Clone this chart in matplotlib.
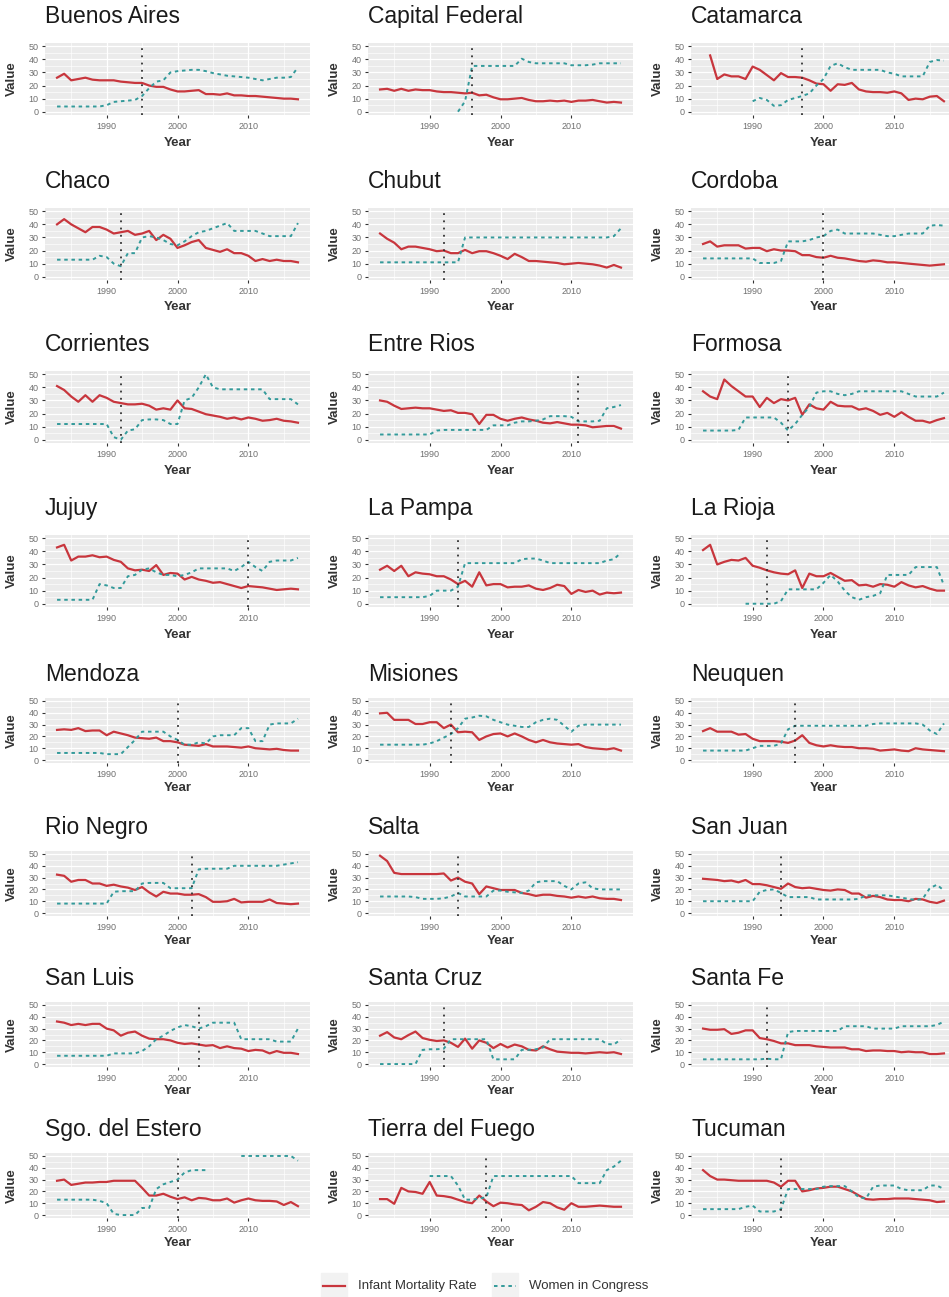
import numpy as np
import matplotlib
matplotlib.use('Agg')
import matplotlib.pyplot as plt
from matplotlib.patches import Rectangle

plt.rcParams['font.family'] = ['Liberation Sans', 'DejaVu Sans']

nan = np.nan
years = np.arange(1983, 2018)

provinces = ['Buenos Aires', 'Capital Federal', 'Catamarca',
             'Chaco', 'Chubut', 'Cordoba',
             'Corrientes', 'Entre Rios', 'Formosa',
             'Jujuy', 'La Pampa', 'La Rioja',
             'Mendoza', 'Misiones', 'Neuquen',
             'Rio Negro', 'Salta', 'San Juan',
             'San Luis', 'Santa Cruz', 'Santa Fe',
             'Sgo. del Estero', 'Tierra del Fuego', 'Tucuman']

# year the quota law came into force in each province
quota_year = [1995, 1996, 1997,
              1992, 1992, 2000,
              1992, 2011, 1995,
              2010, 1994, 1992,
              2000, 1993, 1996,
              2002, 1994, 1994,
              2003, 1992, 1992,
              2000, 1998, 1994]

# infant mortality rate (imr) and % women in congress (wic), 1983-2017
imr_buenos_aires = [26, 29, 24, 25, 26, 24.5, 24,
                    24, 24, 23, 22.5, 22, 22, 20, 19, 19, 17,
                    15.5, 15.5, 16, 16.5, 13.5, 13.5, 13, 14, 12.5, 12.5,
                    12, 12, 11.5, 11, 10.5, 10, 10, 9.5]
wic_buenos_aires = [4, 4, 4, 4, 4, 4, 4,
                    5, 7.5, 8, 8.5, 9, 12, 18, 23, 24, 30,
                    31, 31.5, 32, 32, 31, 29.5, 28.5, 27.5, 27, 26.5,
                    26, 25, 24, 25, 26, 26, 26.5, 34]

imr_capital = [17, 17.5, 16, 17.5, 16, 17, 16.5,
               16.5, 15.5, 15, 15, 14.5, 14, 14.5, 12.5, 13, 11,
               9.5, 9.5, 10, 10.5, 9, 8, 8, 8.5, 8, 8.5,
               7.5, 8.5, 8.5, 9, 8, 7, 7.5, 7]
wic_capital = [nan, nan, nan, nan, nan, nan, nan,
               nan, nan, nan, nan, 0, 8, 35, 35, 35, 35,
               35, 35, 35, 40.5, 38, 37, 37, 37, 37, 37,
               35.5, 35.5, 35.5, 36, 37, 37, 37, 37]

imr_catamarca = [nan, 43, 25, 28.5, 27, 27, 25,
                 34.5, 32, 28, 24, 29.5, 26.5, 26.5, 26, 24, 21.5,
                 21, 16, 21, 20.5, 22, 17, 15.5, 15, 15, 14.5,
                 15.5, 14, 9, 10, 9.5, 11.5, 12, 8]
wic_catamarca = [nan, nan, nan, nan, nan, nan, nan,
                 8, 10.5, 9, 4.5, 5, 9, 10.5, 12, 14, 20,
                 25, 35, 37, 34, 32, 32, 32, 32, 32, 30,
                 29, 27, 27, 27, 27, 38, 39.5, 39]

imr_chaco = [40, 44, 40, 37, 34, 38, 38,
             36, 33, 34, 35, 32, 33, 35, 28, 32, 29,
             22, 24, 26.5, 28, 22, 20.5, 19, 21, 18, 18,
             16, 12, 13.5, 12, 13, 12, 12, 11]
wic_chaco = [13, 13, 13, 13, 13, 13, 16,
             15, 10, 8, 18, 18, 30, 31, 30, 28, 25,
             24, 27, 31, 34, 35, 37, 39, 41, 35, 35,
             35, 35, 33, 31, 31, 31, 31, 41]

imr_chubut = [33, 29, 26, 21, 23, 23, 22,
              21, 19.5, 20, 18, 18, 20.5, 18, 19.5, 19.5, 18,
              16, 13.5, 17.5, 15, 12, 12, 11.5, 11, 10.5, 9.5,
              10, 10.5, 10, 9.5, 8.5, 7, 9, 7]
wic_chubut = [11, 11, 11, 11, 11, 11, 11,
              11, 11, 11, 11, 11, 30, 30, 30, 30, 30,
              30, 30, 30, 30, 30, 30, 30, 30, 30, 30,
              30, 30, 30, 30, 30, 30, 31, 37]

imr_cordoba = [25, 27, 23, 24, 24, 24, 21.5,
               22, 22, 19.5, 21, 20, 20, 19.5, 16.5, 16.5, 15,
               14.5, 16, 14.5, 14, 13, 12, 11.5, 12.5, 12, 11,
               11, 10.5, 10, 9.5, 9, 8.5, 9, 9.5]
wic_cordoba = [14, 14, 14, 14, 14, 14, 14,
               14, 10.5, 10.5, 10.5, 12, 27, 27, 27, 28, 30,
               31, 35, 36, 33, 33, 33, 33, 33, 32, 31,
               31, 32, 33, 33, 33, 39, 39.5, 39]

imr_corrientes = [41, 38, 33, 29, 34, 29, 34,
                  32, 29, 28, 27, 27, 27.5, 26, 23, 24, 23,
                  30, 24, 23.5, 21.5, 19.5, 18.5, 17.5, 16, 17, 15.5,
                  17, 16, 14.5, 15, 16, 14.5, 14, 13]
wic_corrientes = [12, 12, 12, 12, 12, 12, 12,
                  12, 2, 0, 7, 8, 15, 15.5, 15.5, 15, 12,
                  12, 30, 32, 40, 50, 40, 38.5, 38.5, 38.5, 38.5,
                  38.5, 38.5, 38.5, 31, 31, 31, 31, 27]

imr_entre_rios = [30, 29, 26, 23.5, 24, 24.5, 24,
                  24, 23, 22, 22.5, 20.5, 20.5, 19.5, 12, 19, 19,
                  16, 14.5, 16, 17, 15.5, 14.5, 13, 12.5, 13.5, 12.5,
                  11.5, 11.5, 11, 9.5, 10, 10.5, 10.5, 8.5]
wic_entre_rios = [4, 4, 4, 4, 4, 4, 4,
                  4, 7, 7.5, 7.5, 7.5, 7.5, 7.5, 7.5, 7.5, 11,
                  11, 11, 13, 14, 14, 14.5, 15.5, 18, 18, 18,
                  17.5, 14, 14, 14, 14.5, 24, 25, 26.5]

imr_formosa = [37, 33, 31, 46, 41, 37, 33,
               33, 25, 32, 28, 31, 30, 32, 19, 27, 24,
               23, 29, 26, 25.5, 25.5, 23, 24, 22, 19, 20.5,
               17.5, 21, 17.5, 14.5, 14.5, 13, 15, 16.5]
wic_formosa = [7, 7, 7, 7, 7, 7.5, 17,
               17, 17, 17, 17, 13, 7, 12, 19, 25, 36,
               37, 37, 35, 34, 35, 37, 37, 37, 37, 37,
               37, 37, 35, 33, 33, 33, 33, 36]

imr_jujuy = [43, 45, 33, 36, 36, 37, 35.5,
             36, 33.5, 32, 27, 25.5, 26, 25, 29.5, 22, 23.5,
             23, 18.5, 20.5, 18.5, 17.5, 16, 16.5, 15, 13.5, 12,
             13.5, 13, 12.5, 11.5, 10.5, 11, 11.5, 11]
wic_jujuy = [3, 3, 3, 3, 3, 3, 15,
             14, 12, 12, 21, 22, 26, 27, 24, 22, 22,
             21, 22, 24, 27, 27, 27, 27, 27, 25, 28,
             32, 28, 25, 32, 33, 33, 33, 35]

imr_la_pampa = [26, 29, 25, 29, 21, 24, 23,
                22.5, 21, 21, 18.5, 15, 17.5, 13, 24, 14, 15,
                15, 12.5, 13, 13, 14, 11.5, 10.5, 12, 14.5, 13.5,
                7.5, 10.5, 9, 10, 7, 8.5, 8, 8.5]
wic_la_pampa = [5, 5, 5, 5, 5, 5, 5,
                6, 10, 10, 10, 13, 31, 31, 31, 31, 31,
                31, 31, 31, 34, 34.5, 34.5, 33, 31, 31, 31,
                31, 31, 31, 31, 31, 33, 34, 39]

imr_la_rioja = [41, 45, 30, 32, 33.5, 33, 35,
                29, 27.5, 25.5, 24, 23, 22.5, 25.5, 12, 23, 21,
                21, 23.5, 20.5, 17.5, 18, 14, 14.5, 13, 15, 14.5,
                13, 16.5, 14, 12.5, 13.5, 11.5, 10, 10]
wic_la_rioja = [nan, nan, nan, nan, nan, nan, 0,
                0, 0, 0, 0, 2, 11, 11, 11, 11, 11,
                16, 22, 17, 10, 5, 3, 5, 6, 8, 22,
                22, 22, 22, 28, 28, 28, 28, 14]

imr_mendoza = [25.5, 26, 25.5, 27, 24.5, 25, 25,
               21, 24, 22.5, 21, 19, 18.5, 18, 19, 16, 16,
               15, 13, 12.5, 12, 13.5, 11.5, 11.5, 11.5, 11, 10.5,
               11.5, 10, 9.5, 9, 9.5, 8.5, 8, 8]
wic_mendoza = [6, 6, 6, 6, 6, 6, 6,
               5, 5, 5, 11, 17, 24, 24, 24, 24, 20,
               17, 13, 13, 15, 14, 20, 21, 21, 21, 27,
               27, 16, 16, 30, 31, 31, 31, 35]

imr_misiones = [39.5, 40, 34, 34, 34, 30.5, 30.5,
                32, 32, 27, 30, 23.5, 24, 23.5, 17, 20, 22,
                22.5, 20, 22.5, 20, 17, 15, 17, 15, 14, 13.5,
                13, 13.5, 11, 10, 9.5, 9, 10, 8]
wic_misiones = [13, 13, 13, 13, 13, 13, 13,
                14, 16, 19, 22, 27, 35, 36, 37.5, 37, 34,
                32, 30, 29, 28, 28, 32, 34, 35, 34, 29,
                24, 29, 30, 30, 30, 30, 30, 30]

imr_neuquen = [24.5, 27, 24, 24, 24, 21.5, 22,
               18, 16, 16, 16, 15.5, 14.5, 16.5, 21, 14.5, 12.5,
               11.5, 12.5, 11.5, 11, 11, 10, 10, 9.5, 8, 8.5,
               9, 8, 7.5, 10, 9, 8.5, 8, 7.5]
wic_neuquen = [8, 8, 8, 8, 8, 8, 8,
               10, 12, 12, 12, 14, 26, 29, 29, 29, 29,
               29, 29, 29, 29, 29, 29, 29, 30.5, 31, 31,
               31, 31, 31, 31, 30, 25, 22, 31]

imr_rio_negro = [32.5, 31.5, 26.5, 28, 28, 25, 25,
                 23, 24, 22.5, 21.5, 19.5, 22, 17.5, 14, 18, 16.5,
                 16.5, 15.5, 15.5, 16, 13.5, 9.5, 9.5, 10, 12, 9,
                 9.5, 9.5, 9.5, 11.5, 8.5, 8, 7.5, 8]
wic_rio_negro = [8, 8, 8, 8, 8, 8, 8,
                 8, 18, 18.5, 18.5, 18.5, 25, 25.5, 25.5, 25.5, 21,
                 21, 21, 21, 37, 37.5, 37.5, 37.5, 37.5, 40, 40,
                 40, 40, 40, 40, 40, 41, 42, 43]

imr_salta = [48.5, 44, 34, 33, 33, 33, 33,
             33, 33, 33.5, 27.5, 30, 26.5, 25, 16, 22.5, 21,
             19.5, 19.5, 19.5, 17, 16, 14.5, 15.5, 15.5, 14.5, 14,
             13, 14, 13, 14, 12.5, 12, 12, 11]
wic_salta = [14, 14, 14, 14, 14, 13.5, 12,
             12, 12, 12.5, 14, 17, 14, 14, 14, 14, 19,
             19, 18, 17.5, 17, 19, 26, 27, 27, 27, 23,
             20, 25, 26, 21, 20, 20, 20, 20]

imr_san_juan = [29, 28.5, 28, 27, 27.5, 26, 28,
                24.5, 24.5, 23.5, 22, 20.5, 25, 22, 21, 21.5, 20.5,
                19.5, 19, 20, 19.5, 16.5, 16.5, 13, 14.5, 13.5, 11.5,
                11, 11, 10, 12, 11.5, 9.5, 8.5, 10.5]
wic_san_juan = [10, 10, 10, 10, 10, 10, 10,
                10, 18, 19.5, 20, 17, 13.5, 13.5, 13.5, 13.5, 11.5,
                11.5, 11.5, 11.5, 11.5, 11.5, 12, 15, 15, 15, 15,
                14, 13, 12, 11, 12, 21, 24, 19]

imr_san_luis = [36, 35, 33, 34, 33, 34, 34,
                30, 28.5, 24, 26.5, 27.5, 24, 21.5, 21, 21, 20,
                18, 17, 17.5, 16.5, 15.5, 16, 13.5, 15, 13.5, 13,
                11, 12, 11.5, 9, 11, 9.5, 9.5, 8.5]
wic_san_luis = [7, 7, 7, 7, 7, 7, 7,
                7, 9, 9, 9, 9, 11, 15, 21, 24, 28,
                31, 33, 32, 30, 32, 35, 35, 35, 35, 21,
                21, 21, 21, 21, 19, 19, 19, 30]

imr_santa_cruz = [24, 27, 22.5, 21, 24.5, 27.5, 22,
                  20.5, 19.5, 20, 18, 14.5, 21.5, 13, 20, 18, 13.5,
                  17, 14, 16.5, 15, 12, 11.5, 15, 12.5, 10.5, 10,
                  9.5, 9.5, 9, 9.5, 10, 9.5, 10, 8.5]
wic_santa_cruz = [0, 0, 0, 0, 0, 0, 12,
                  12.5, 12.5, 13, 21, 21, 21, 21, 21, 21, 4,
                  4, 4, 4, 12, 12, 12.5, 14, 21, 21, 21,
                  21, 21, 21, 21, 21, 17, 16.5, 21]

imr_santa_fe = [30, 29, 29, 29.5, 25.5, 26.5, 28.5,
                28.5, 22, 21, 19.5, 17.5, 17.5, 16, 16, 16, 15,
                14.5, 14, 14, 14, 12.5, 12.5, 11, 11.5, 11.5, 11,
                11, 10, 10.5, 10, 10, 8.5, 8.5, 9]
wic_santa_fe = [4, 4, 4, 4, 4, 4, 4,
                4, 4, 4.5, 4, 4, 27, 28, 28, 28, 28,
                28, 28, 28, 32, 32, 32, 32, 30, 30, 30,
                30, 32, 32, 32, 32, 32, 33, 36]

imr_sgo_estero = [29, 30, 25.5, 26.5, 27.5, 27.5, 28,
                  28, 29, 29, 29, 29, 23, 16.5, 16.5, 18, 15.5,
                  13.5, 15, 12.5, 14.5, 14, 12.5, 12.5, 14, 10.5, 12.5,
                  14, 12.5, 12, 12, 11.5, 8.5, 11, 7.5]
wic_sgo_estero = [13, 13, 13, 13, 13, 13, 12,
                  10, 1, 0, 0, 0, 6, 6, 22, 26, 28,
                  30, 36, 38, 38, 38, nan, nan, nan, nan, 50,
                  50, 50, 50, 50, 50, 50, 50, 46]

imr_tierra_fuego = [13.5, 13.5, 9.5, 23, 20, 19.5, 18,
                    28, 16.5, 16, 15, 13, 11, 10, 16.5, 11.5, 7.5,
                    10.5, 10, 9, 8.5, 4, 7, 11, 10, 6.5, 4.5,
                    10, 7, 7, 7.5, 8, 7.5, 7, 7]
wic_tierra_fuego = [nan, nan, nan, nan, nan, nan, nan,
                    33, 33, 33, 33, 25, 13, 13, 14, 15, 33,
                    33, 33, 33, 33, 33, 33, 33, 33, 33, 33,
                    33, 27, 27, 27, 27, 38, 41, 46]

imr_tucuman = [38, 33, 30, 30, 29.5, 29, 29,
               29, 29, 29, 27.5, 24, 29, 29, 20, 21, 22.5,
               23, 24, 24, 22, 20, 16.5, 13.5, 13, 13.5, 13.5,
               14, 14, 14, 13.5, 13, 12.5, 11, 11.5]
wic_tucuman = [5, 5, 5, 5, 5, 5, 7,
               8, 3, 3, 3, 5, 22, 22, 22, 22, 22,
               24, 24.5, 24.5, 24.5, 20, 15, 14, 24, 25, 25,
               25, 22, 21, 21, 21, 25, 25, 22]

imr = [imr_buenos_aires, imr_capital, imr_catamarca,
       imr_chaco, imr_chubut, imr_cordoba,
       imr_corrientes, imr_entre_rios, imr_formosa,
       imr_jujuy, imr_la_pampa, imr_la_rioja,
       imr_mendoza, imr_misiones, imr_neuquen,
       imr_rio_negro, imr_salta, imr_san_juan,
       imr_san_luis, imr_santa_cruz, imr_santa_fe,
       imr_sgo_estero, imr_tierra_fuego, imr_tucuman]
wic = [wic_buenos_aires, wic_capital, wic_catamarca,
       wic_chaco, wic_chubut, wic_cordoba,
       wic_corrientes, wic_entre_rios, wic_formosa,
       wic_jujuy, wic_la_pampa, wic_la_rioja,
       wic_mendoza, wic_misiones, wic_neuquen,
       wic_rio_negro, wic_salta, wic_san_juan,
       wic_san_luis, wic_santa_cruz, wic_santa_fe,
       wic_sgo_estero, wic_tierra_fuego, wic_tucuman]

RED = '#C8363D'
TEAL = '#339A9A'
TEAL_LS = (0, (1.8, 1.9))

W, H = 949, 1297
fig = plt.figure(figsize=(W / 100, H / 100), dpi=100)


def px_axes(left, top, w, h):
    return fig.add_axes([left / W, 1 - (top + h) / H, w / W, h / H])


col_left = [45, 368, 691]
panel_w = 265
title_y = [15, 180, 343, 507, 673, 826, 977, 1128]

for i, name in enumerate(provinces):
    r, c = divmod(i, 3)
    if r < 4:
        off, ph = 28, 72
    else:
        off, ph = 25, 65
    ax = px_axes(col_left[c], title_y[r] + off, panel_w, ph)
    ax.set_facecolor('#EBEBEB')
    for s in ax.spines.values():
        s.set_visible(False)
    ax.set_xlim(1981.3, 2018.7)
    ax.set_ylim(-2.5, 52.5)
    ax.set_xticks([1990, 2000, 2010])
    ax.set_xticks([1985, 1995, 2005, 2015], minor=True)
    ax.set_yticks(range(0, 51, 10))
    ax.set_yticks(range(5, 50, 10), minor=True)
    ax.grid(which='major', color='white', lw=0.9)
    ax.grid(which='minor', color='white', lw=0.45)
    ax.set_axisbelow(True)
    ax.tick_params(which='major', length=2.2, width=0.8, color='#333333',
                   labelsize=6.5, labelcolor='#707070')
    ax.tick_params(axis='x', pad=3)
    ax.tick_params(axis='y', pad=2.5)
    ax.tick_params(which='minor', length=0)

    ax.plot(years, imr[i], color=RED, lw=1.6, solid_joinstyle='round', zorder=3)
    ax.plot(years, wic[i], color=TEAL, lw=1.4, ls=TEAL_LS, zorder=3)
    ax.axvline(quota_year[i], color='#333333', lw=1.3, ls=(0, (1, 3)), zorder=4)

    ax.set_title(name, loc='left', fontsize=16.5, color='#1A1A1A',
                 pad=(off - 8.2) * 0.72)
    ax.set_ylabel('Value', fontsize=9.5, fontweight='bold', color='#333333', va='center')
    ax.yaxis.set_label_coords(-33 / panel_w, 0.5)
    ax.set_xlabel('Year', fontsize=9.5, fontweight='bold', color='#333333', va='center')
    ax.xaxis.set_label_coords(0.5, -(off - 0.5) / ph)

# shared legend at the bottom
leg = fig.add_axes([0, 0, 1, 1], zorder=-1)
leg.set_xlim(0, W)
leg.set_ylim(H, 0)
leg.axis('off')
leg.add_patch(Rectangle((321, 1273), 26, 25, color='#F2F2F2'))
leg.plot([323, 345], [1286, 1286], color=RED, lw=1.6)
leg.text(358, 1286, 'Infant Mortality Rate', fontsize=9.5, color='#333333', va='center')
leg.add_patch(Rectangle((492, 1273), 26, 25, color='#F2F2F2'))
leg.plot([494, 516], [1286, 1286], color=TEAL, lw=1.4, ls=TEAL_LS)
leg.text(529, 1286, 'Women in Congress', fontsize=9.5, color='#333333', va='center')

fig.savefig('out.png', dpi=100, facecolor='white')
